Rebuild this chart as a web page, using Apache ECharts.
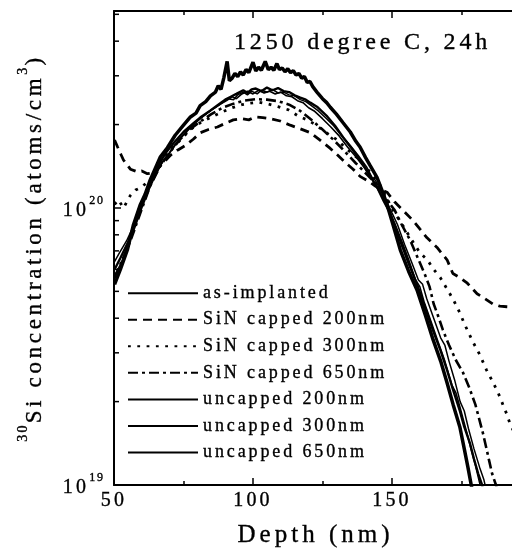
<!DOCTYPE html>
<html><head><meta charset="utf-8">
<script src="https://cdn.jsdelivr.net/npm/echarts@6/dist/echarts.min.js"></script>
<style>
html,body{margin:0;padding:0;background:#fff;}
#c{width:512px;height:556px;}
</style></head><body><div id="c"></div>
<script>
// ---------- data (depth nm, concentration atoms/cm^3) ----------
const seriesNames = ['as-implanted','SiN capped 200nm','SiN capped 300nm','SiN capped 650nm','uncapped 200nm','uncapped 300nm','uncapped 650nm'];
const xTickValues = [50, 100, 150];
const yMinorTickValues = [2e19,3e19,4e19,5e19,6e19,7e19,8e19,9e19,2e20,3e20,4e20,5e20];

const asImplanted = [[50.2,5.3e19],[52.3,6.0e19],[54.8,7.05e19],[57,8.7e19],[59.5,1.03e20],[61.2,1.12e20],[63,1.26e20],[65,1.40e20],[66.7,1.53e20],[69.2,1.65e20],[72,1.83e20],[75,1.99e20],[77.5,2.13e20],[79.5,2.20e20],[81,2.34e20],[83,2.42e20],[84.7,2.54e20],[86.5,2.62e20],[87.5,2.76e20],[88.5,2.68e20],[89.5,2.95e20],[90.7,3.38e20],[91.5,2.88e20],[92.5,2.94e20],[93.5,3.06e20],[94.5,2.98e20],[95.5,3.10e20],[96.5,3.02e20],[97.5,3.16e20],[98.5,3.08e20],[100,3.36e20],[101,3.12e20],[102,3.22e20],[103,3.14e20],[104.4,3.38e20],[105.5,3.16e20],[106.5,3.22e20],[107.5,3.14e20],[108.6,3.32e20],[109.5,3.16e20],[110.5,3.20e20],[111.5,3.10e20],[112.5,3.18e20],[113.5,3.08e20],[114.5,3.13e20],[115.5,3.02e20],[116.5,3.06e20],[117.5,2.94e20],[118.5,2.98e20],[119.5,2.84e20],[120.5,2.86e20],[121.5,2.74e20],[123,2.62e20],[125,2.48e20],[126.5,2.40e20],[127.8,2.31e20],[130,2.18e20],[132.4,2.03e20],[135,1.88e20],[137,1.74e20],[138.5,1.66e20],[140.5,1.52e20],[142,1.43e20],[144.6,1.29e20],[146.5,1.15e20],[148.2,1.03e20],[150.5,8.6e19],[153,7.05e19],[156,5.9e19],[159,5.06e19],[162,4.1e19],[164.8,3.34e19],[167.5,2.8e19],[169.8,2.34e19],[172,1.95e19],[174.4,1.62e19],[176,1.35e19],[177.3,1.16e19],[178.5,1.0e19],[179.2,9.2e18]];

const sin200 = [[50.2,1.76e20],[51.3,1.66e20],[52.5,1.56e20],[53.4,1.49e20],[55.9,1.38e20],[58.4,1.35e20],[60,1.36e20],[62,1.33e20],[64.2,1.34e20],[66.7,1.42e20],[70.3,1.55e20],[73,1.62e20],[75.7,1.68e20],[78.5,1.77e20],[81.1,1.87e20],[84,1.92e20],[87.2,1.96e20],[90,2.02e20],[92.9,2.08e20],[96,2.10e20],[98.5,2.08e20],[100.8,2.13e20],[103.5,2.12e20],[106.2,2.10e20],[109.8,2.06e20],[113.4,1.99e20],[117,1.93e20],[120.6,1.87e20],[124,1.76e20],[127.8,1.64e20],[130.5,1.55e20],[133.2,1.46e20],[136,1.38e20],[138.5,1.30e20],[141.5,1.25e20],[144,1.20e20],[146.5,1.16e20],[148.2,1.14e20],[151,1.05e20],[154,9.8e19],[157.6,9.0e19],[160,8.4e19],[162.6,7.8e19],[166.2,7.2e19],[169.8,6.5e19],[171.9,5.8e19],[174.5,5.6e19],[177.1,5.35e19],[180.6,4.9e19],[183.5,4.7e19],[186.3,4.5e19],[188.8,4.42e19],[191.3,4.40e19],[195,4.38e19],[200,4.38e19]];

const sin300 = [[50.2,1.03e20],[51.6,1.07e20],[53.4,1.0e20],[55.9,1.11e20],[57.7,1.16e20],[60,1.19e20],[63.1,1.27e20],[66.7,1.45e20],[70.3,1.62e20],[73.9,1.76e20],[77.5,1.92e20],[81,2.03e20],[84.7,2.12e20],[88,2.20e20],[92.5,2.30e20],[96,2.36e20],[99,2.39e20],[102,2.41e20],[105.6,2.37e20],[109,2.32e20],[112.8,2.26e20],[116.5,2.14e20],[119.5,2.08e20],[122.4,2.00e20],[126,1.88e20],[130.3,1.76e20],[134,1.62e20],[138.5,1.49e20],[142,1.35e20],[145.7,1.21e20],[148,1.09e20],[150.4,9.8e19],[154,8.6e19],[157.7,7.5e19],[160,6.9e19],[162.7,6.5e19],[165,6.0e19],[167.4,5.6e19],[169.8,5.1e19],[172.1,4.66e19],[174.3,4.2e19],[176.4,3.75e19],[179,3.3e19],[181.6,2.95e19],[184,2.6e19],[186.3,2.35e19],[188.2,2.15e19],[189.9,1.95e19],[191.3,1.8e19],[192.4,1.67e19],[196,1.4e19],[200,1.2e19]];

const sin650 = [[50.2,5.6e19],[53,6.5e19],[55.9,7.6e19],[59.5,9.6e19],[63,1.2e20],[66.7,1.42e20],[70.3,1.6e20],[74,1.78e20],[77.5,1.93e20],[81,2.05e20],[85,2.18e20],[89,2.30e20],[93,2.38e20],[97,2.44e20],[101,2.47e20],[105,2.46e20],[109,2.43e20],[113,2.36e20],[117,2.24e20],[121,2.08e20],[125,1.92e20],[129,1.76e20],[133,1.60e20],[137,1.45e20],[141,1.32e20],[145.7,1.18e20],[148.5,1.06e20],[151,9.8e19],[153.5,8.7e19],[156.5,7.66e19],[159,6.7e19],[161.9,5.73e19],[163.5,5.2e19],[165,4.5e19],[166.5,4.1e19],[168.3,3.63e19],[170.5,3.2e19],[173,2.82e19],[175.5,2.55e19],[177.7,2.26e19],[180,1.95e19],[182.7,1.54e19],[184,1.35e19],[184.9,1.23e19],[186,1.1e19],[187.4,1.0e19],[188,9.3e18]];

const uncap200 = [[50.2,6.4e19],[52,6.9e19],[54.5,7.6e19],[57,8.6e19],[59.5,1.0e20],[62,1.14e20],[64.5,1.30e20],[67,1.44e20],[69.5,1.56e20],[72,1.70e20],[75,1.84e20],[78,1.98e20],[81,2.10e20],[84,2.22e20],[87,2.32e20],[89,2.40e20],[91,2.48e20],[93,2.46e20],[94.5,2.56e20],[96.5,2.62e20],[98,2.56e20],[99.5,2.64e20],[101.5,2.58e20],[103,2.66e20],[105,2.62e20],[107,2.68e20],[109,2.60e20],[111,2.62e20],[113,2.56e20],[115,2.54e20],[117,2.46e20],[119,2.42e20],[121,2.34e20],[123.5,2.24e20],[126,2.12e20],[129,1.98e20],[132,1.82e20],[135,1.68e20],[138,1.54e20],[141,1.40e20],[143,1.28e20],[144,1.26e20],[146,1.15e20],[148,1.06e20],[150,9.6e19],[152,8.7e19],[154.5,7.4e19],[157,6.4e19],[159.5,5.5e19],[161,5.3e19],[162.5,4.7e19],[165,4.0e19],[167.5,3.4e19],[169,3.2e19],[170.5,2.8e19],[172.5,2.4e19],[174.5,2.0e19],[176,1.85e19],[177.5,1.6e19],[179.5,1.35e19],[181.5,1.16e19],[183,1.05e19],[184,9.5e18]];

const uncap300 = [[50.2,6.0e19],[52.3,6.6e19],[55,7.5e19],[57,8.5e19],[59.5,1.0e20],[61.5,1.12e20],[63,1.22e20],[65,1.36e20],[66.7,1.47e20],[69,1.60e20],[72,1.74e20],[75,1.88e20],[78.5,2.02e20],[81,2.12e20],[84.7,2.25e20],[88,2.38e20],[90,2.46e20],[92,2.52e20],[94,2.58e20],[96.5,2.66e20],[98,2.60e20],[99.5,2.68e20],[101,2.70e20],[103,2.64e20],[105,2.72e20],[107,2.66e20],[109,2.71e20],[111,2.64e20],[113,2.62e20],[115,2.55e20],[117,2.50e20],[119,2.46e20],[120.6,2.40e20],[123,2.32e20],[126.7,2.14e20],[129.5,1.98e20],[132.4,1.80e20],[135.5,1.64e20],[138.5,1.49e20],[141.5,1.34e20],[144.6,1.19e20],[147,1.06e20],[149.3,9.6e19],[151,8.6e19],[153,7.6e19],[156,6.3e19],[159,5.3e19],[162,4.35e19],[164.8,3.6e19],[167.5,3.05e19],[169.8,2.6e19],[172,2.2e19],[174.4,1.85e19],[176,1.62e19],[178,1.42e19],[179.5,1.24e19],[181,1.1e19],[182.4,1.0e19],[183,9.3e18]];

const uncap650 = [[50.2,5.7e19],[52.5,6.3e19],[55,7.3e19],[57.5,8.5e19],[60,1.0e20],[62.5,1.16e20],[65,1.32e20],[67.5,1.47e20],[70,1.58e20],[73,1.74e20],[76,1.88e20],[79,2.02e20],[82,2.14e20],[85,2.26e20],[88,2.36e20],[90.5,2.44e20],[92.5,2.52e20],[94,2.48e20],[96,2.58e20],[98,2.64e20],[100,2.58e20],[102,2.66e20],[104,2.60e20],[106,2.64e20],[108,2.58e20],[110,2.62e20],[112,2.54e20],[114,2.52e20],[116,2.44e20],[118,2.40e20],[120,2.30e20],[122,2.24e20],[125,2.10e20],[128,1.96e20],[131,1.82e20],[134,1.66e20],[137,1.53e20],[140,1.40e20],[143,1.26e20],[146,1.12e20],[148.5,1.0e20],[151,8.8e19],[153.5,7.6e19],[156,6.5e19],[158.5,5.5e19],[160,5.2e19],[161.5,4.6e19],[164,3.9e19],[166.5,3.3e19],[169,2.8e19],[171.5,2.3e19],[173,2.15e19],[174.5,1.9e19],[176.5,1.6e19],[178.5,1.34e19],[180,1.18e19],[181.5,1.02e19],[182.5,9.4e18]];

// ---------- letter spacing: measured and drawn consistently on canvas ----------
const LS = 0.16;
const FONT = 'Liberation Serif';
function fontPx(font) { const m = /(\d+(?:\.\d+)?)px/.exec(font || ''); return m ? parseFloat(m[1]) : 12; }
const mctx = document.createElement('canvas').getContext('2d');
const supportsLS = ('letterSpacing' in mctx);
if (supportsLS) {
  const proto = CanvasRenderingContext2D.prototype;
  ['fillText', 'strokeText'].forEach(function (fn) {
    const orig = proto[fn];
    proto[fn] = function (t, x, y, mw) {
      this.letterSpacing = (LS * fontPx(this.font)).toFixed(2) + 'px';
      return mw === undefined ? orig.call(this, t, x, y) : orig.call(this, t, x, y, mw);
    };
  });
  if (echarts.setPlatformAPI) {
    echarts.setPlatformAPI({
      measureText: function (text, font) {
        text = text || '';
        mctx.font = font || '12px sans-serif';
        mctx.letterSpacing = '0px';
        const r = mctx.measureText(text);
        // '国' is the line-height probe: keep it unspaced
        const extra = text === '国' ? 0 : LS * fontPx(font) * text.length;
        return {
          width: r.width + extra,
          actualBoundingBoxAscent: r.actualBoundingBoxAscent,
          actualBoundingBoxDescent: r.actualBoundingBoxDescent,
          actualBoundingBoxLeft: r.actualBoundingBoxLeft,
          actualBoundingBoxRight: r.actualBoundingBoxRight
        };
      }
    });
  }
}

const X_MIN = 50, X_MAX = 200, Y_MIN = 1e19, Y_MAX = 5.14e20;

const chart = echarts.init(document.getElementById('c'), null, { renderer: 'canvas' });

const axisLineStyle = { color: '#000', width: 2 };
const tickStyle = { color: '#000', width: 1.5 };
const INK = { color: '#000', textBorderColor: '#000', textBorderWidth: 0.35 };

function lineSeries(name, data, lineStyle, z) {
  return { name: name, type: 'line', data: data, symbol: 'none', showSymbol: false,
    lineStyle: Object.assign({ color: '#000' }, lineStyle), itemStyle: { color: '#000' }, z: z || 2, animation: false };
}

const option = {
  animation: false,
  backgroundColor: '#fff',
  textStyle: { fontFamily: FONT },
  title: {
    text: '1250 degree C, 24h', left: 229, top: 26,
    textStyle: Object.assign({ fontFamily: FONT, fontSize: 24, fontWeight: 'normal' }, INK)
  },
  grid: { left: 114, top: 11, right: -19, bottom: 71, containLabel: false, outerBoundsMode: 'none' },
  legend: {
    orient: 'vertical', left: 122, top: 279,
    itemWidth: 70, itemHeight: 18, itemGap: 8.2,
    itemStyle: { opacity: 0 },
    textStyle: Object.assign({ fontFamily: FONT, fontSize: 18, lineHeight: 18 }, INK),
    data: seriesNames
  },
  xAxis: [
    {
      type: 'value', min: X_MIN, max: X_MAX, interval: 50, position: 'bottom',
      axisLine: { lineStyle: axisLineStyle },
      axisTick: { inside: true, length: 7, lineStyle: tickStyle },
      minorTick: { show: true, splitNumber: 2, length: 4, lineStyle: tickStyle },
      splitLine: { show: false },
      axisLabel: Object.assign({ margin: 6, fontFamily: FONT, fontSize: 20,
        formatter: v => (xTickValues.indexOf(v) >= 0 ? String(v) : '') }, INK),
      name: 'Depth (nm)', nameLocation: 'middle', nameGap: 38,
      nameTextStyle: Object.assign({ fontFamily: FONT, fontSize: 25, padding: [0, 14, 0, 0] }, INK)
    },
    {
      type: 'value', min: X_MIN, max: X_MAX, interval: 50, position: 'top',
      axisLine: { lineStyle: axisLineStyle },
      axisTick: { inside: true, length: 7, lineStyle: tickStyle },
      minorTick: { show: true, splitNumber: 2, length: 4, lineStyle: tickStyle },
      splitLine: { show: false }, axisLabel: { show: false }
    }
  ],
  yAxis: {
    type: 'log', logBase: 10, min: Y_MIN, max: Y_MAX,
    axisLine: { lineStyle: axisLineStyle },
    axisTick: { inside: true, length: 7, lineStyle: tickStyle },
    splitLine: { show: false },
    axisLabel: {
      margin: 9, showMaxLabel: false,
      formatter: function (v) {
        const e = Math.round(Math.log10(v));
        return Math.abs(v - Math.pow(10, e)) / v < 1e-6 ? '{b|10}{s|' + e + '}' : '';
      },
      rich: {
        b: Object.assign({ fontFamily: FONT, fontSize: 20, lineHeight: 26, verticalAlign: 'bottom' }, INK),
        s: Object.assign({ fontFamily: FONT, fontSize: 12, lineHeight: 26, verticalAlign: 'top' }, INK)
      }
    },
    name: '{s|30}{m|Si concentration (atoms/cm}{s|3}{m|)}',
    nameLocation: 'middle', nameRotate: 90, nameGap: 68,
    nameTextStyle: {
      fontFamily: FONT, fontSize: 23, color: '#000',
      rich: {
        m: Object.assign({ fontFamily: FONT, fontSize: 23, lineHeight: 30, verticalAlign: 'bottom' }, INK),
        s: Object.assign({ fontFamily: FONT, fontSize: 14, lineHeight: 30, verticalAlign: 'top' }, INK)
      }
    }
  },
  series: [
    lineSeries(seriesNames[1], sin200, { width: 2.8, type: [9, 6] }),
    lineSeries(seriesNames[2], sin300, { width: 2.8, type: [2.8, 6.5] }),
    lineSeries(seriesNames[3], sin650, { width: 2.6, type: [10, 4, 3, 4] }),
    lineSeries(seriesNames[4], uncap200, { width: 1.5, type: 'solid' }),
    lineSeries(seriesNames[5], uncap300, { width: 2.4, type: 'solid' }),
    lineSeries(seriesNames[6], uncap650, { width: 1.6, type: 'solid' }),
    lineSeries(seriesNames[0], asImplanted, { width: 3.5, type: 'solid' }, 3),
    {
      type: 'custom', silent: true, clip: false, z: 4,
      data: yMinorTickValues.map(v => [X_MIN, v]),
      renderItem: function (params, api) {
        const p = api.coord([api.value(0), api.value(1)]);
        return { type: 'line', shape: { x1: p[0], y1: p[1], x2: p[0] + 5, y2: p[1] },
          style: { stroke: '#000', lineWidth: 1.5 } };
      }
    }
  ]
};
chart.setOption(option);
</script></body></html>
